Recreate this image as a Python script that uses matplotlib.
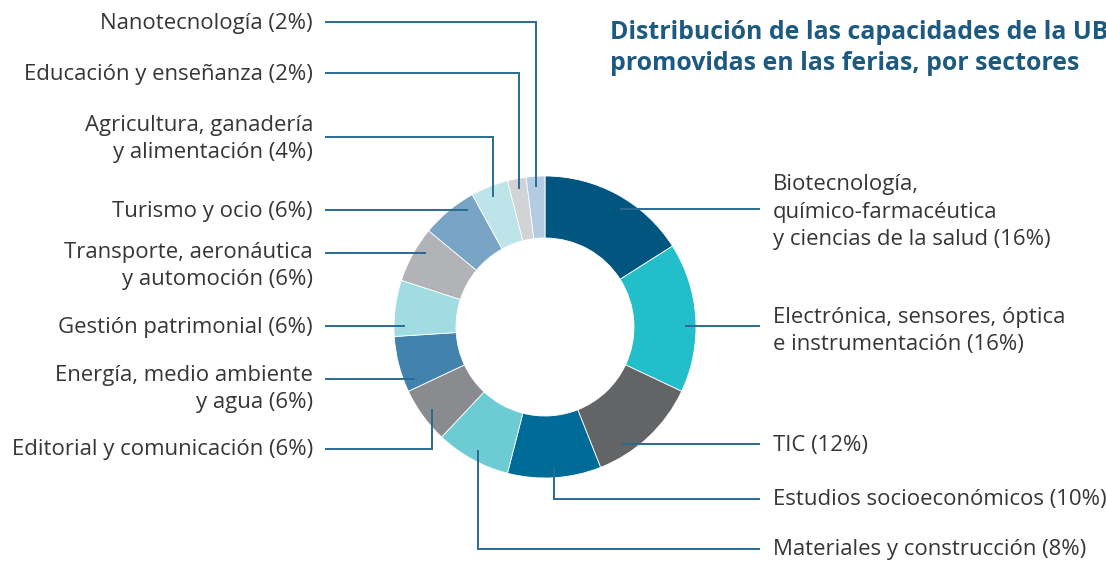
import numpy as np
import matplotlib
matplotlib.use("Agg")
import matplotlib.pyplot as plt

# ---------------- data ----------------
sectors = [
    "Biotecnología,\nquímico-farmacéutica\ny ciencias de la salud",
    "Electrónica, sensores, óptica\ne instrumentación",
    "TIC",
    "Estudios socioeconómicos",
    "Materiales y construcción",
    "Editorial y comunicación",
    "Energía, medio ambiente\ny agua",
    "Gestión patrimonial",
    "Transporte, aeronáutica\ny automoción",
    "Turismo y ocio",
    "Agricultura, ganadería\ny alimentación",
    "Educación y enseñanza",
    "Nanotecnología",
]
percent = [16, 16, 12, 10, 8, 6, 6, 6, 6, 6, 4, 2, 2]
colors = ["#00567f", "#22bec9", "#636466", "#006b96", "#6dcbd3", "#8a8b8e",
          "#4283ad", "#a2dce3", "#b1b3b6", "#78a4c6", "#bde4e9", "#d1d3d4",
          "#b4cce2"]

title = "Distribución de las capacidades de la UB\npromovidas en las ferias, por sectores"

# ---------------- layout (pixel space, y downward) ----------------
W, H = 1106, 561
CX, CY = 545, 327
R_OUT, R_IN = 151, 89
R_ANCH = 140
TEXT_COL = "#363636"
LINE_COL = "#2b6a92"
TITLE_COL = "#1d5a82"

layout = [
    ("R", 212, 209, "h"),
    ("R", 331, 326, "h"),
    ("R", 445, 444, "h"),
    ("R", 500, 499, "v"),
    ("R", 550, 549, "v"),
    ("L", 450, 449, "v"),
    ("L", 389, 379, "h"),
    ("L", 328, 326, "h"),
    ("L", 266, 253, "h"),
    ("L", 211, 210, "h"),
    ("L", 139, 137, "v"),
    ("L", 74, 73, "v"),
    ("L", 23, 22, "v"),
]
LEFT_TEXT_X, LEFT_LINE_X = 313, 325
RIGHT_TEXT_X, RIGHT_LINE_X = 773, 760

plt.rcParams["font.family"] = ["Open Sans", "DejaVu Sans"]

fig = plt.figure(figsize=(W / 100, H / 100), dpi=100)
ax = fig.add_axes([0, 0, 1, 1])
ax.set_xlim(0, W)
ax.set_ylim(0, H)
ax.set_aspect("equal")
ax.axis("off")

def Y(y):
    return H - y

wedges, _ = ax.pie(percent, colors=colors, startangle=90, counterclock=False,
                   radius=R_OUT, center=(CX, Y(CY)),
                   wedgeprops=dict(width=R_OUT - R_IN, linewidth=0.6,
                                   edgecolor="white"))
ax.set_xlim(0, W)
ax.set_ylim(0, H)

FS = 15.9

cum = np.cumsum([0] + percent)
for i, (lab, p) in enumerate(zip(sectors, percent)):
    side, ty, ly, kind = layout[i]
    mid = np.deg2rad(90 - 360 * (cum[i] + cum[i + 1]) / 2 / 100)
    text = f"{lab} ({p}%)"
    if side == "L":
        ax.text(LEFT_TEXT_X, Y(ty), text, ha="right", va="center",
                fontsize=FS, color=TEXT_COL, linespacing=1.41)
        x0 = LEFT_LINE_X
    else:
        ax.text(RIGHT_TEXT_X, Y(ty), text, ha="left", va="center",
                fontsize=FS, color=TEXT_COL, linespacing=1.41)
        x0 = RIGHT_LINE_X
    if kind == "h":
        dy = ly - CY
        dx = np.sqrt(max(R_ANCH ** 2 - dy ** 2, 0))
        xe = CX - dx if side == "L" else CX + dx
        ax.plot([x0, xe], [Y(ly), Y(ly)], color=LINE_COL, lw=1.4,
                solid_capstyle="butt")
    else:
        xv = CX + R_ANCH * np.cos(mid)
        dxv = xv - CX
        dyv = np.sqrt(max(R_ANCH ** 2 - dxv ** 2, 0))
        ye = CY - dyv if ly < CY else CY + dyv
        ax.plot([x0, xv, xv], [Y(ly), Y(ly), Y(ye)], color=LINE_COL, lw=1.4,
                solid_capstyle="butt", solid_joinstyle="miter")

fig.text(610 / W, 1 - 20 / H, title, ha="left", va="top", fontsize=17.9,
         fontweight="bold", color=TITLE_COL, linespacing=1.33)

fig.savefig("out.png", dpi=100)
